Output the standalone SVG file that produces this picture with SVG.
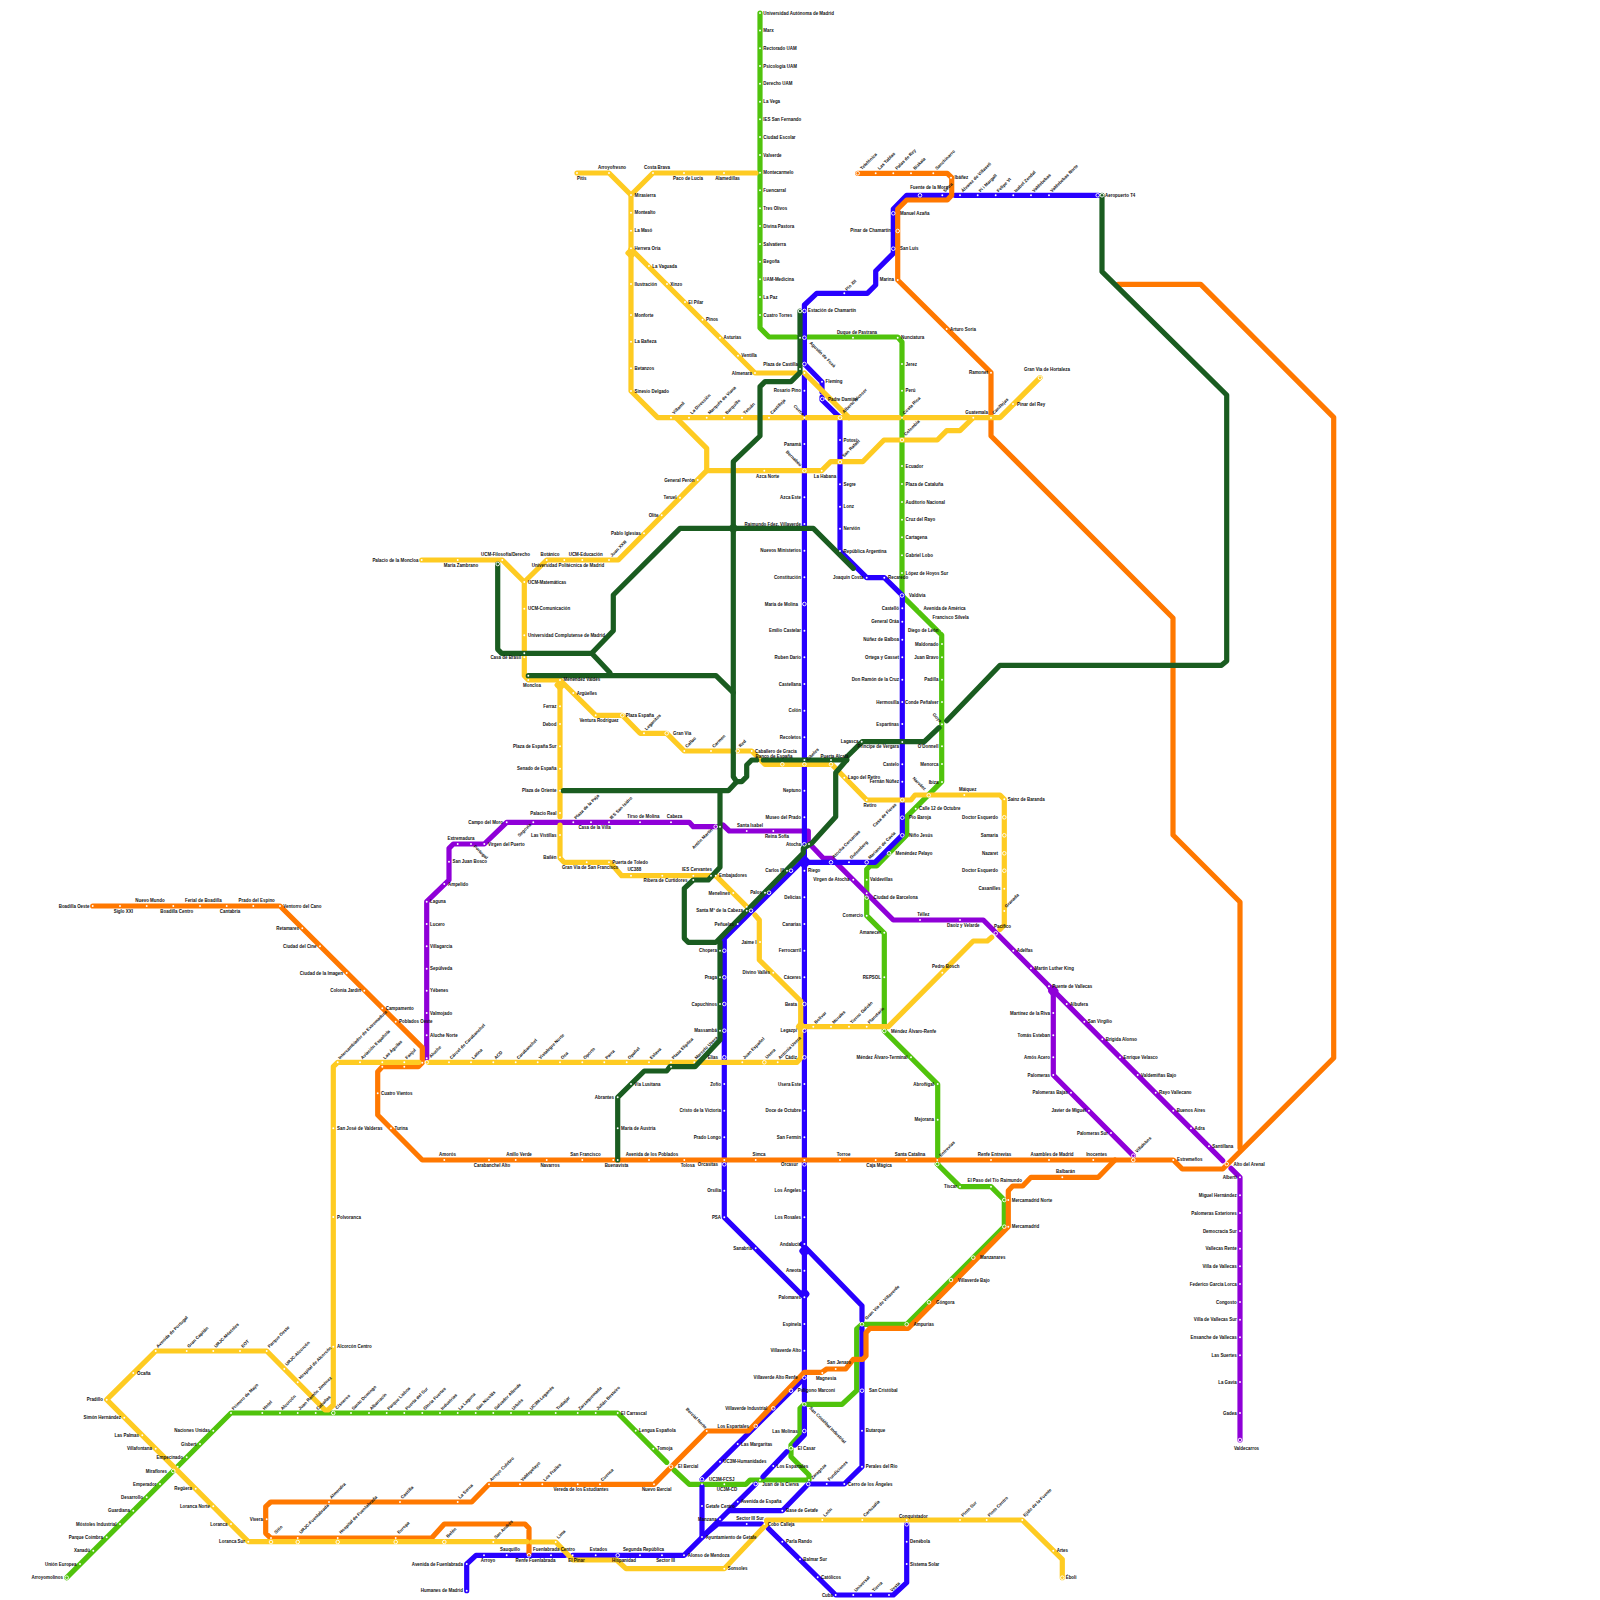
<svg xmlns="http://www.w3.org/2000/svg" width="1600" height="1600" viewBox="0 0 1600 1600">
<style>
text{font-family:"Liberation Sans",Arial,sans-serif;font-weight:700;font-size:4.44px;fill:#111}
.e{text-anchor:end}.m{text-anchor:middle}
.d{fill:#fff;r:.95px}.r{fill:none;stroke:#fff;stroke-width:.9;r:1.8px}
#connectors path{fill:none;stroke-width:5.2;stroke-linejoin:round;stroke-linecap:round}
.g{stroke:#50c30c}.p{stroke:#8f00d8}.b{stroke:#2800ff}.o{stroke:#ff7800}.y{stroke:#fecb22}.k{stroke:#1a5c20}
</style>
<rect width="1600" height="1600" fill="#fff"/>
<g id="connectors">
<path class="g" d="M760 13V328L769 337H796"/>
<path class="g" d="M808 337H897.7L902 342V595.7L941.7 635V781.7L906.7 816.7V835L876.7 866H870L866.7 869.3V915.7L884.3 933.3V1031L937.7 1084.4V1164"/>
<path class="g" d="M937.3 1164L960 1186.7H991L1004.3 1200V1226.7L906.7 1324.3H862L856.7 1329V1390.7L842 1404.3H804.3L800 1408.3V1435L791 1445V1456.7L809 1475V1480H750L746 1484.3H689.3L674 1470"/>
<path class="g" d="M666.7 1462.3L617.7 1413H231L66.7 1577.7"/>
<path class="p" d="M1240 1440V1177.3L1231 1168.3"/>
<path class="p" d="M1222.7 1160.7L983.3 920H893.3L831.7 858.3H823.3L811.7 846L808.3 842V831H729.3L723 825"/>
<path class="p" d="M716.7 826.7H693.3L689.3 822.3H506.7L484.3 844H453.3L449 848.3V880L426.7 901.7V1058.3"/>
<path class="p" d="M1049 986.3L1053.3 993V1075L1133.3 1155.7"/>
<path class="p" d="M1053.3 988L1056 991L1053.3 994L1050.6 991Z"/>
<path class="b" d="M1098.3 195.3H955"/>
<path class="b" d="M948.3 195.3H906.7L893.3 209V253.3L875.7 271V285L867.3 293.3H816.7L804.4 305V364L822 382V392"/>
<path class="b" d="M822 397V400L840 417.7V551L866.7 577.7H884.3L902.3 595.3V835L875 862.3H804.4"/>
<path class="b" d="M804.4 376V1400"/>
<path class="b" d="M804.4 1408V1435L795 1445"/>
<path class="b" d="M786.7 1451.7L763 1476.7"/>
<path class="b" d="M755.7 1484L684 1555.3H572.7"/>
<path class="b" d="M565 1555.3H476L466.7 1564V1590.7"/>
<path class="b" d="M804.3 1378L702 1479.3"/>
<path class="b" d="M702 1486.7V1537L717.7 1524H761.7"/>
<path class="b" d="M730 1510.7H782.3L808.3 1484H844.3L862 1466.7V1328"/>
<path class="b" d="M862 1320V1305.7L802 1244"/>
<path class="b" d="M803.3 860L724.3 938.3V1217.3L802 1295"/>
<path class="b" d="M768.3 1528.3L835.7 1595H893.3L906.7 1582.7V1524.3"/>
<path class="b" d="M804.4 858L808 862L804.4 866L800.8 862Z"/>
<path class="b" d="M804.4 1248L807 1251L804.4 1254L801.8 1251Z"/>
<path class="b" d="M804.4 1291L807 1294L804.4 1297L801.8 1294Z"/>
<path class="o" d="M857.7 173.3H947.3L951.7 177.7V195.3L947.3 200H906.7L897.7 209V280L991 372.7V436L1173 618V835L1240 902V1148"/>
<path class="o" d="M1118 284.3H1200.7L1333.7 417.3V1058L1226.7 1165L1222.7 1169H1182.3L1173.3 1160H940"/>
<path class="o" d="M935 1160H422.3L377.7 1115V1071.7L382.3 1066.7H418.3L422.3 1062.7V1047.7L280 906H92.7"/>
<path class="o" d="M1115 1160L1098.3 1177.3H1031L1022.7 1186H1012.7L1008.3 1190.7V1226.7L908.3 1328.3H870L866 1332.7V1356L862.7 1359.3H853.3L845.7 1369H826.7L821.7 1372.3H804.3L748.3 1431H706.7L654 1484.3H489L471.7 1502H270.7L265.7 1506.7V1533.3L270.7 1538H431.7L444.3 1524H525L529 1528.3V1553.3"/>
<path class="y" d="M577 173H609L631 195L653 173H756"/>
<path class="y" d="M631 195V391L657.7 417.7H756.7"/>
<path class="y" d="M763 417.7H802"/>
<path class="y" d="M807 417.7H899"/>
<path class="y" d="M905 417.7H1000L1040 377.7"/>
<path class="y" d="M631 249L755 373H796"/>
<path class="y" d="M804.4 373L849 417.7"/>
<path class="y" d="M421.7 560H502.3L524.3 582V650"/>
<path class="y" d="M524.3 582L546.7 560H618.3L706.7 470.7V448.3L676 417.7"/>
<path class="y" d="M706.7 470.7H730"/>
<path class="y" d="M736.7 470.7H821.7L830.7 461.7H862.7L884 440H937.3L946.7 430.7H960L973.3 417.7"/>
<path class="y" d="M524.3 657V675.7L528.3 680H560V816.7"/>
<path class="y" d="M560 825V858L564 862.3H610L621.7 875.7H715.7L746.7 906.7"/>
<path class="y" d="M755 915L759.3 920V960L800.7 1001V1058L797 1062.3H428"/>
<path class="y" d="M419 1062.3H337.7L333.3 1066.7V1405L328 1410H325L266.7 1351H155.7L106.7 1399.7L248.3 1541.7H526.7"/>
<path class="y" d="M531.7 1542H555.7L573 1560H616.7L626 1568.7H724.3L766.7 1524V1520H1022.3L1062.3 1559.3V1577.7"/>
<path class="y" d="M560 680L595.7 715.3H622.3L640 733.3H666.7L684.3 751H730"/>
<path class="y" d="M737.7 751H751.7L765 764.3H831.7L866.7 800H911L915 795H1000L1004.3 799.3V925L1000 929.3"/>
<path class="y" d="M800.7 1026.7H888.3L973.3 941H987.3L991.7 937.3"/>
<path class="y" d="M631 250L634 253L631 256L628 253Z"/>
<path class="y" d="M560 682L563 685L560 688L557 685Z"/>
<path class="y" d="M800.7 1024L803 1026.7L800.7 1029.4L798.4 1026.7Z"/>
<path class="k" d="M1102 195.3V271.7L1226.7 395V661L1221.5 665.3H1000L946.7 720.7"/>
<path class="k" d="M939 727.7L924.3 741.7H862.3L846.7 757V760H763.3"/>
<path class="k" d="M846.7 760L835.7 772.7V816.7L811.7 843.3L803.3 848.3V853L716 942.3H688.3L684.3 938.3V888.3L693.3 880H708.3L720 867.3V793"/>
<path class="k" d="M800 311V372.7L791 381.7H765L760 386.7V436L733.3 461.7V776.7L736.7 781.7H741.7L746.7 776.7V765L751.7 760H756.7"/>
<path class="k" d="M563.3 790.7H728.3L736.7 781.7"/>
<path class="k" d="M720 942V1040L695 1066.7H670L666.7 1071H644.3L617.7 1097.3V1160"/>
<path class="k" d="M497.7 564V649.3L501.7 653.3H591.7L613.3 630.7V595L680 528.3H813.3L853.3 568.3"/>
<path class="k" d="M591.7 653.3L610 672.7"/>
<path class="k" d="M528.3 675.7H716L733.3 692.7"/>
<path class="k" d="M733.3 526L735.7 528.3L733.3 530.6L731 528.3Z"/>
</g>
<g id="nodes">
<g id="n1"><circle class="d" cx="760" cy="13"/><text x="763.3" y="14.5">Universidad Autónoma de Madrid</text></g>
<g id="n2"><circle class="d" cx="760" cy="30.5"/><text x="763.3" y="32">Marx</text></g>
<g id="n3"><circle class="d" cx="760" cy="48.3"/><text x="763.3" y="49.8">Rectorado UAM</text></g>
<g id="n4"><circle class="d" cx="760" cy="66"/><text x="763.3" y="67.5">Psicología UAM</text></g>
<g id="n5"><circle class="d" cx="760" cy="83.7"/><text x="763.3" y="85.2">Derecho UAM</text></g>
<g id="n6"><circle class="d" cx="760" cy="101.7"/><text x="763.3" y="103.2">La Vega</text></g>
<g id="n7"><circle class="d" cx="760" cy="119.3"/><text x="763.3" y="120.8">IES San Fernando</text></g>
<g id="n8"><circle class="d" cx="760" cy="137"/><text x="763.3" y="138.5">Ciudad Escolar</text></g>
<g id="n9"><circle class="d" cx="760" cy="155"/><text x="763.3" y="156.5">Valverde</text></g>
<g id="n10"><circle class="d" cx="760" cy="172.7"/><text x="763.3" y="174.2">Montecarmelo</text></g>
<g id="n11"><circle class="d" cx="760" cy="190.3"/><text x="763.3" y="191.8">Fuencarral</text></g>
<g id="n12"><circle class="d" cx="760" cy="208.3"/><text x="763.3" y="209.8">Tres Olivos</text></g>
<g id="n13"><circle class="d" cx="760" cy="226"/><text x="763.3" y="227.5">Divina Pastora</text></g>
<g id="n14"><circle class="d" cx="760" cy="244"/><text x="763.3" y="245.5">Salvatierra</text></g>
<g id="n15"><circle class="d" cx="760" cy="261.7"/><text x="763.3" y="263.2">Begoña</text></g>
<g id="n16"><circle class="d" cx="760" cy="279.3"/><text x="763.3" y="280.8">UAM-Medicina</text></g>
<g id="n17"><circle class="d" cx="760" cy="297"/><text x="763.3" y="298.5">La Paz</text></g>
<g id="n18"><circle class="d" cx="760" cy="315"/><text x="763.3" y="316.5">Cuatro Torres</text></g>
<g id="n19"><circle class="d" cx="577" cy="173"/><text x="577" y="179.8">Pitis</text></g>
<g id="n20"><circle class="d" cx="609" cy="173"/><text class="m" x="612" y="169">Arroyofresno</text></g>
<g id="n21"><circle class="d" cx="653" cy="173"/><text class="m" x="657" y="169">Costa Brava</text></g>
<g id="n22"><circle class="d" cx="684" cy="173"/><text class="m" x="688" y="179.8">Paco de Lucía</text></g>
<g id="n23"><circle class="d" cx="724" cy="173"/><text class="m" x="727.5" y="179.8">Alamedillas</text></g>
<g id="n24"><circle class="d" cx="631" cy="195"/><text x="634.5" y="196.5">Mirasierra</text></g>
<g id="n25"><circle class="d" cx="631" cy="212.7"/><text x="634.5" y="214.2">Montealto</text></g>
<g id="n26"><circle class="d" cx="631" cy="230.7"/><text x="634.5" y="232.2">La Masó</text></g>
<g id="n27"><circle class="d" cx="631" cy="248.3"/><text x="634.5" y="249.8">Herrera Oria</text></g>
<g id="n28"><circle class="d" cx="631" cy="284"/><text x="634.5" y="285.5">Ilustración</text></g>
<g id="n29"><circle class="d" cx="631" cy="315"/><text x="634.5" y="316.5">Monforte</text></g>
<g id="n30"><circle class="d" cx="631" cy="341.7"/><text x="634.5" y="343.2">La Bañeza</text></g>
<g id="n31"><circle class="d" cx="631" cy="368.3"/><text x="634.5" y="369.8">Betanzos</text></g>
<g id="n32"><circle class="d" cx="631" cy="391"/><text x="634.5" y="392.5">Sinesio Delgado</text></g>
<g id="n33"><circle class="d" cx="649" cy="266"/><text x="652.3" y="267.5">La Vaguada</text></g>
<g id="n34"><circle class="d" cx="667" cy="284"/><text x="670.3" y="285.5">Xinzo</text></g>
<g id="n35"><circle class="d" cx="685" cy="302"/><text x="688.3" y="303.5">El Pilar</text></g>
<g id="n36"><circle class="d" cx="702.5" cy="319.7"/><text x="706" y="321.2">Pinos</text></g>
<g id="n37"><circle class="d" cx="720" cy="337.7"/><text x="723.5" y="339.2">Asturias</text></g>
<g id="n38"><circle class="d" cx="738" cy="355.7"/><text x="741.3" y="357.2">Ventilla</text></g>
<g id="n39"><circle class="d" cx="755" cy="373"/><text class="e" x="752" y="374.5">Almenara</text></g>
<g id="n40"><circle class="r" cx="804.4" cy="364"/><circle class="d" cx="800" cy="369"/><circle class="d" cx="804.4" cy="373"/><text class="e" x="798" y="365.5">Plaza de Castilla</text></g>
<g id="n41"><circle class="r" cx="804.4" cy="311"/><circle class="r" cx="800" cy="311"/><text x="808" y="312">Estación de Chamartín</text></g>
<g id="n42"><circle class="r" cx="804.4" cy="337.7"/><circle class="d" cx="800" cy="337.7"/><text x="809.3" y="343.3" transform="rotate(45 809.3 343.3)">Agustín de Foxá</text></g>
<g id="n43"><circle class="d" cx="853" cy="337.7"/><text class="m" x="857" y="333.5">Duque de Pastrana</text></g>
<g id="n44"><circle class="d" cx="897.7" cy="337.7"/><text x="901" y="339.2">Nunciatura</text></g>
<g id="n45"><circle class="d" cx="844.3" cy="293.3"/><text x="847" y="291" transform="rotate(-45 847 291)">Pío XII</text></g>
<g id="n46"><circle class="r" cx="857.7" cy="173.3"/><text x="862" y="170" transform="rotate(-45 862 170)">Telefónica</text></g>
<g id="n47"><circle class="d" cx="875.7" cy="173.3"/><text x="879.5" y="170" transform="rotate(-45 879.5 170)">Las Tablas</text></g>
<g id="n48"><circle class="d" cx="893.3" cy="173.3"/><text x="897" y="170" transform="rotate(-45 897 170)">Palas de Rey</text></g>
<g id="n49"><circle class="d" cx="911" cy="173.3"/><text x="915" y="170" transform="rotate(-45 915 170)">Bizkaia</text></g>
<g id="n50"><circle class="d" cx="933.3" cy="173.3"/><text x="937" y="170" transform="rotate(-45 937 170)">Sanchinarro</text></g>
<g id="n51"><circle class="d" cx="951" cy="177.7"/><text x="954.5" y="179.2">Ibáñez</text></g>
<g id="n52"><circle class="r" cx="920" cy="195.3"/><text class="m" x="929" y="189">Fuente de la Mora</text></g>
<g id="n53"><circle class="d" cx="942.3" cy="195.3"/><text x="945" y="192.5" transform="rotate(-45 945 192.5)">Sotra</text></g>
<g id="n54"><circle class="d" cx="960" cy="195.3"/><text x="963" y="192.5" transform="rotate(-45 963 192.5)">Álvarez de Villaseti</text></g>
<g id="n55"><circle class="d" cx="977.7" cy="195.3"/><text x="980.5" y="192.5" transform="rotate(-45 980.5 192.5)">Pi i Margall</text></g>
<g id="n56"><circle class="d" cx="995.7" cy="195.3"/><text x="998.5" y="192.5" transform="rotate(-45 998.5 192.5)">Felipe VI</text></g>
<g id="n57"><circle class="d" cx="1013.3" cy="195.3"/><text x="1016" y="192.5" transform="rotate(-45 1016 192.5)">Isabel Zendal</text></g>
<g id="n58"><circle class="d" cx="1031" cy="195.3"/><text x="1034" y="192.5" transform="rotate(-45 1034 192.5)">Valdebebas</text></g>
<g id="n59"><circle class="d" cx="1049" cy="195.3"/><text x="1052" y="192.5" transform="rotate(-45 1052 192.5)">Valdebebas Norte</text></g>
<g id="n60"><circle class="r" cx="1097.7" cy="195.3"/><circle class="r" cx="1102" cy="195.3"/><text x="1105" y="196.8">Aeropuerto T4</text></g>
<g id="n61"><circle class="r" cx="893.3" cy="213.3"/><text x="900" y="214.8">Manuel Azaña</text></g>
<g id="n62"><circle class="r" cx="897.7" cy="231"/><text class="e" x="891" y="232">Pinar de Chamartín</text></g>
<g id="n63"><circle class="r" cx="893.3" cy="248.7"/><text x="900" y="250.2">San Luis</text></g>
<g id="n64"><circle class="d" cx="897.7" cy="280"/><text class="e" x="894" y="281">Marina</text></g>
<g id="n65"><circle class="d" cx="946.7" cy="329"/><text x="950" y="330.5">Arturo Soria</text></g>
<g id="n66"><circle class="d" cx="991" cy="372.7"/><text class="e" x="988" y="374">Ramonet</text></g>
<g id="n67"><circle class="d" cx="991" cy="417.7"/><text x="994" y="414.5" transform="rotate(-45 994 414.5)">Canillejas</text></g>
<g id="n68"><circle class="d" cx="973.3" cy="417.7"/><text class="m" x="976.7" y="413.5">Guatemala</text></g>
<g id="n69"><circle class="d" cx="1013" cy="404"/><text x="1017" y="405.5">Pinar del Rey</text></g>
<g id="n70"><circle class="r" cx="1040" cy="377.7"/><text class="m" x="1047" y="371">Gran Vía de Hortaleza</text></g>
<g id="n71"><circle class="d" cx="822" cy="381.7"/><text x="825.5" y="383.2">Fleming</text></g>
<g id="n72"><circle class="r" cx="822.3" cy="399"/><text x="828" y="400.5">Padre Damián</text></g>
<g id="n73"><circle class="r" cx="840" cy="417.7"/><text x="844" y="413.5" transform="rotate(-45 844 413.5)">Alberto Alcocer</text></g>
<g id="n74"><circle class="d" cx="804.4" cy="390.7"/><text class="e" x="801" y="392">Rosario Pino</text></g>
<g id="n75"><circle class="d" cx="804.4" cy="417.7"/><text class="e" x="802.7" y="416" transform="rotate(45 802.7 416)">Cuzco</text></g>
<g id="n76"><circle class="d" cx="671" cy="417.7"/><text x="674" y="414.5" transform="rotate(-45 674 414.5)">Villamil</text></g>
<g id="n77"><circle class="d" cx="689" cy="417.7"/><text x="692" y="414.5" transform="rotate(-45 692 414.5)">La Dirección</text></g>
<g id="n78"><circle class="d" cx="706.7" cy="417.7"/><text x="709.7" y="414.5" transform="rotate(-45 709.7 414.5)">Marqués de Viana</text></g>
<g id="n79"><circle class="d" cx="724" cy="417.7"/><text x="727" y="414.5" transform="rotate(-45 727 414.5)">Barquillo</text></g>
<g id="n80"><circle class="d" cx="742" cy="417.7"/><text x="745" y="414.5" transform="rotate(-45 745 414.5)">Tetuán</text></g>
<g id="n81"><circle class="d" cx="769" cy="417.7"/><text x="772" y="414.5" transform="rotate(-45 772 414.5)">Castilleja</text></g>
<g id="n82"><circle class="d" cx="804.4" cy="444"/><text class="e" x="801" y="445.5">Panamá</text></g>
<g id="n83"><circle class="r" cx="804.4" cy="470.7"/><text class="e" x="800" y="466.7" transform="rotate(45 800 466.7)">Bernabéu</text></g>
<g id="n84"><circle class="d" cx="804.4" cy="497.3"/><text class="e" x="801" y="498.8">Azca Este</text></g>
<g id="n85"><circle class="d" cx="804.4" cy="524"/><text class="e" x="801" y="525.5">Raimundo Fdez. Villaverde</text></g>
<g id="n86"><circle class="d" cx="804.4" cy="550.7"/><text class="e" x="801" y="552.2">Nuevos Ministerios</text></g>
<g id="n87"><circle class="d" cx="804.4" cy="577.3"/><text class="e" x="801" y="578.8">Constitución</text></g>
<g id="n88"><circle class="r" cx="804.4" cy="604"/><text class="e" x="798" y="605.5">María de Molina</text></g>
<g id="n89"><circle class="d" cx="804.4" cy="630.7"/><text class="e" x="801" y="632.2">Emilio Castelar</text></g>
<g id="n90"><circle class="d" cx="804.4" cy="657.3"/><text class="e" x="801" y="658.8">Ruben Darío</text></g>
<g id="n91"><circle class="d" cx="804.4" cy="684"/><text class="e" x="801" y="685.5">Castellana</text></g>
<g id="n92"><circle class="d" cx="804.4" cy="710.7"/><text class="e" x="801" y="712.2">Colón</text></g>
<g id="n93"><circle class="d" cx="804.4" cy="737.3"/><text class="e" x="801" y="738.8">Recoletos</text></g>
<g id="n94"><circle class="r" cx="804.4" cy="764.3"/><circle class="d" cx="804.4" cy="760"/><text x="808" y="761" transform="rotate(-45 808 761)">Cibeles</text></g>
<g id="n95"><circle class="d" cx="804.4" cy="790.7"/><text class="e" x="801" y="792.2">Neptuno</text></g>
<g id="n96"><circle class="d" cx="804.4" cy="817.3"/><text class="e" x="801" y="818.8">Museo del Prado</text></g>
<g id="n97"><circle class="r" cx="804.4" cy="844.3"/><circle class="d" cx="809" cy="844"/><text class="e" x="801" y="845.8">Atocha</text></g>
<g id="n98"><circle class="d" cx="804.4" cy="870.7"/><text x="808" y="872.2">Riego</text></g>
<g id="n99"><circle class="d" cx="804.4" cy="897.3"/><text class="e" x="801" y="898.8">Delicias</text></g>
<g id="n100"><circle class="d" cx="804.4" cy="924"/><text class="e" x="801" y="925.5">Canarias</text></g>
<g id="n101"><circle class="d" cx="804.4" cy="950.7"/><text class="e" x="801" y="952.2">Ferrocarril</text></g>
<g id="n102"><circle class="d" cx="804.4" cy="977.3"/><text class="e" x="801" y="978.8">Cáceres</text></g>
<g id="n103"><circle class="r" cx="804.4" cy="1004"/><text class="e" x="797" y="1005.5">Beata</text></g>
<g id="n104"><circle class="r" cx="804.4" cy="1030.7"/><text class="e" x="797" y="1032.2">Legazpi</text></g>
<g id="n105"><circle class="r" cx="804.4" cy="1057.3"/><text class="e" x="797" y="1058.8">Cádiz</text></g>
<g id="n106"><circle class="d" cx="804.4" cy="1084"/><text class="e" x="801" y="1085.5">Usera Este</text></g>
<g id="n107"><circle class="d" cx="804.4" cy="1110.7"/><text class="e" x="801" y="1112.2">Doce de Octubre</text></g>
<g id="n108"><circle class="d" cx="804.4" cy="1137.3"/><text class="e" x="801" y="1138.8">San Fermín</text></g>
<g id="n109"><circle class="r" cx="804.4" cy="1164.3"/><circle class="d" cx="804.4" cy="1160"/><text class="e" x="798" y="1165.5">Orcasur</text></g>
<g id="n110"><circle class="d" cx="804.4" cy="1190.7"/><text class="e" x="801" y="1192.2">Los Ángeles</text></g>
<g id="n111"><circle class="d" cx="804.4" cy="1217.3"/><text class="e" x="801" y="1218.8">Los Rosales</text></g>
<g id="n112"><circle class="d" cx="804.4" cy="1244"/><text class="e" x="801" y="1245.5">Andalucía</text></g>
<g id="n113"><circle class="d" cx="804.4" cy="1270.7"/><text class="e" x="801" y="1272.2">Aneota</text></g>
<g id="n114"><circle class="d" cx="804.4" cy="1297.3"/><text class="e" x="801" y="1298.8">Palomares</text></g>
<g id="n115"><circle class="d" cx="804.4" cy="1324"/><text class="e" x="801" y="1325.5">Espinela</text></g>
<g id="n116"><circle class="d" cx="804.4" cy="1350.7"/><text class="e" x="801" y="1352.2">Villaverde Alto</text></g>
<g id="n117"><circle class="r" cx="804.4" cy="1377.7"/><text class="e" x="797.7" y="1379">Villaverde Alto Renfe</text></g>
<g id="n118"><circle class="r" cx="791" cy="1390.7"/><text x="797.7" y="1392.2">Polígono Marconi</text></g>
<g id="n119"><circle class="r" cx="773.3" cy="1408.3"/><text class="e" x="767.3" y="1409.8">Villaverde Industrial</text></g>
<g id="n120"><circle class="r" cx="755.7" cy="1426"/><text class="e" x="749" y="1427.5">Los Espartales</text></g>
<g id="n121"><circle class="d" cx="737.7" cy="1444"/><text x="741" y="1445.5">Las Margaritas</text></g>
<g id="n122"><circle class="d" cx="720" cy="1461.7"/><text x="723.3" y="1463.2">UC3M-Humanidades</text></g>
<g id="n123"><circle class="r" cx="702" cy="1479.3"/><circle class="d" cx="702" cy="1484.3"/><text x="709" y="1480.8">UC3M-FCSJ</text></g>
<g id="n124"><circle class="d" cx="724.3" cy="1484.3"/><text class="m" x="727" y="1491.3">UC3M-CD</text></g>
<g id="n125"><circle class="d" cx="702" cy="1506"/><text x="705.7" y="1507.5">Getafe Centro</text></g>
<g id="n126"><circle class="d" cx="702" cy="1537"/><text x="705.7" y="1538.5">Ayuntamiento de Getafe</text></g>
<g id="n127"><circle class="d" cx="720" cy="1519.3"/><text class="e" x="716.7" y="1520.8">Manzana</text></g>
<g id="n128"><circle class="d" cx="737.7" cy="1501.7"/><text x="741" y="1503.2">Avenida de España</text></g>
<g id="n129"><circle class="r" cx="755.7" cy="1484"/><circle class="d" cx="760" cy="1480"/><text x="762.3" y="1485.5">Juan de la Cierva</text></g>
<g id="n130"><circle class="d" cx="773.3" cy="1466"/><text x="776.7" y="1467.5">Los Espartales</text></g>
<g id="n131"><circle class="r" cx="791" cy="1448.3"/><text x="797.7" y="1449.8">El Casar</text></g>
<g id="n132"><circle class="r" cx="804.3" cy="1431"/><text class="e" x="797.7" y="1432.5">Las Molinas</text></g>
<g id="n133"><circle class="r" cx="804.3" cy="1404.3"/><text x="809" y="1408.3" transform="rotate(45 809 1408.3)">San Cristóbal Industrial</text></g>
<g id="n134"><circle class="d" cx="684" cy="1555.3"/><text x="687.7" y="1556.8">Alonso de Mendoza</text></g>
<g id="n135"><circle class="d" cx="662" cy="1555.3"/><text class="m" x="665.5" y="1562.2">Sector III</text></g>
<g id="n136"><circle class="d" cx="640" cy="1555.3"/><text class="m" x="643.5" y="1550.8">Segunda República</text></g>
<g id="n137"><circle class="r" cx="617.7" cy="1555.3"/><text class="m" x="624" y="1562.2">Hispanidad</text></g>
<g id="n138"><circle class="d" cx="595.7" cy="1555.3"/><text class="m" x="598.5" y="1550.8">Estados</text></g>
<g id="n139"><circle class="d" cx="572.7" cy="1555.3"/><text class="m" x="576.5" y="1562.2">El Pinar</text></g>
<g id="n140"><circle class="d" cx="551" cy="1555.3"/><text class="m" x="554" y="1550.8">Fuenlabrada Centro</text></g>
<g id="n141"><circle class="r" cx="529" cy="1555.3"/><text class="m" x="535.5" y="1562.2">Renfe Fuenlabrada</text></g>
<g id="n142"><circle class="d" cx="506.7" cy="1555.3"/><text class="m" x="510" y="1550.8">Sauquillo</text></g>
<g id="n143"><circle class="d" cx="484" cy="1555.3"/><text class="m" x="488" y="1562.2">Arroyo</text></g>
<g id="n144"><circle class="d" cx="466.7" cy="1564"/><text class="e" x="463" y="1565.5">Avenida de Fuenlabrada</text></g>
<g id="n145"><circle class="d" cx="466.7" cy="1590.7"/><text class="e" x="463" y="1592.2">Humanes de Madrid</text></g>
<g id="n146"><circle class="r" cx="808.3" cy="1484"/><circle class="d" cx="809" cy="1480"/><text x="812.7" y="1479.5" transform="rotate(-45 812.7 1479.5)">Zaragoza</text></g>
<g id="n147"><circle class="d" cx="826.7" cy="1484"/><text x="829.5" y="1481" transform="rotate(-45 829.5 1481)">Fundiciones</text></g>
<g id="n148"><circle class="d" cx="844.3" cy="1484"/><text x="848" y="1485.5">Cerro de los Ángeles</text></g>
<g id="n149"><circle class="d" cx="862" cy="1466.7"/><text x="865.7" y="1468">Perales del Río</text></g>
<g id="n150"><circle class="d" cx="862" cy="1430.7"/><text x="865.7" y="1432.2">Butarque</text></g>
<g id="n151"><circle class="r" cx="862" cy="1390.7"/><text x="869" y="1392.2">San Cristóbal</text></g>
<g id="n152"><circle class="r" cx="862" cy="1324.3"/><text x="866.7" y="1320" transform="rotate(-45 866.7 1320)">Gran Vía de Villaverde</text></g>
<g id="n153"><circle class="d" cx="782.3" cy="1510.7"/><text x="786" y="1512.2">Base de Getafe</text></g>
<g id="n154"><circle class="d" cx="746.7" cy="1524"/><text class="m" x="750" y="1519.8">Sector III Sur</text></g>
<g id="n155"><circle class="d" cx="764.3" cy="1524"/><text x="767.7" y="1525.5">Cobo Calleja</text></g>
<g id="n156"><circle class="d" cx="782.3" cy="1541.7"/><text x="786" y="1543.2">Parla Rando</text></g>
<g id="n157"><circle class="d" cx="800" cy="1559.3"/><text x="803.3" y="1560.8">Balmar Sur</text></g>
<g id="n158"><circle class="d" cx="817.7" cy="1577.3"/><text x="821" y="1578.8">Católicos</text></g>
<g id="n159"><circle class="d" cx="835.7" cy="1595"/><text class="e" x="833" y="1596.5">Cuba</text></g>
<g id="n160"><circle class="d" cx="853.3" cy="1595"/><text x="856" y="1592" transform="rotate(-45 856 1592)">Universal</text></g>
<g id="n161"><circle class="d" cx="871" cy="1595"/><text x="874" y="1592" transform="rotate(-45 874 1592)">Tierra</text></g>
<g id="n162"><circle class="d" cx="889" cy="1595"/><text x="892" y="1592" transform="rotate(-45 892 1592)">Vesta</text></g>
<g id="n163"><circle class="d" cx="906.7" cy="1564"/><text x="910" y="1565.5">Sistema Solar</text></g>
<g id="n164"><circle class="d" cx="906.7" cy="1541.7"/><text x="910" y="1543.2">Denébola</text></g>
<g id="n165"><circle class="r" cx="906.7" cy="1524.3"/><circle class="d" cx="906.7" cy="1520"/><text class="m" x="913.3" y="1517.5">Conquistador</text></g>
<g id="n166"><circle class="d" cx="822.3" cy="1520"/><text x="825" y="1517" transform="rotate(-45 825 1517)">León</text></g>
<g id="n167"><circle class="d" cx="862.3" cy="1520"/><text x="865" y="1517" transform="rotate(-45 865 1517)">Cartuzalia</text></g>
<g id="n168"><circle class="d" cx="960" cy="1520"/><text x="963" y="1517" transform="rotate(-45 963 1517)">Pinto Sur</text></g>
<g id="n169"><circle class="d" cx="986.7" cy="1520"/><text x="989.5" y="1517" transform="rotate(-45 989.5 1517)">Pinto Centro</text></g>
<g id="n170"><circle class="d" cx="1022.3" cy="1520"/><text x="1025" y="1517" transform="rotate(-45 1025 1517)">Ejido de la Fuente</text></g>
<g id="n171"><circle class="d" cx="1053.3" cy="1550.7"/><text x="1056.7" y="1552.2">Artes</text></g>
<g id="n172"><circle class="r" cx="1062.3" cy="1577.7"/><text x="1065.7" y="1579.2">Éboli</text></g>
<g id="n173"><circle class="d" cx="724.3" cy="1568.7"/><text x="727.7" y="1570.2">Sonsoles</text></g>
<g id="n174"><circle class="d" cx="555.7" cy="1542"/><text x="558.5" y="1539" transform="rotate(-45 558.5 1539)">Lima</text></g>
<g id="n175"><circle class="d" cx="493.3" cy="1542"/><text x="496" y="1539" transform="rotate(-45 496 1539)">San Andrés</text></g>
<g id="n176"><circle class="r" cx="444.3" cy="1542"/><text x="448" y="1538" transform="rotate(-45 448 1538)">Belén</text></g>
<g id="n177"><circle class="r" cx="395.7" cy="1542"/><circle class="d" cx="395.7" cy="1538"/><text x="399" y="1534" transform="rotate(-45 399 1534)">Europa</text></g>
<g id="n178"><circle class="r" cx="337.7" cy="1542"/><circle class="d" cx="337.7" cy="1538"/><text x="341" y="1534" transform="rotate(-45 341 1534)">Hospital de Fuenlabrada</text></g>
<g id="n179"><circle class="r" cx="297.7" cy="1542"/><circle class="d" cx="297.7" cy="1538"/><text x="301" y="1534" transform="rotate(-45 301 1534)">URJC-Fuenlabrada</text></g>
<g id="n180"><circle class="r" cx="271" cy="1542"/><circle class="d" cx="271" cy="1538"/><text x="276" y="1534" transform="rotate(-45 276 1534)">Sitio</text></g>
<g id="n181"><circle class="d" cx="248.3" cy="1541.7"/><text class="e" x="245" y="1543.2">Loranca Sur</text></g>
<g id="n182"><circle class="d" cx="231" cy="1524"/><text class="e" x="227.5" y="1525.5">Loranca</text></g>
<g id="n183"><circle class="d" cx="213.3" cy="1506.3"/><text class="e" x="210" y="1507.8">Loranca Norte</text></g>
<g id="n184"><circle class="d" cx="195.7" cy="1488.7"/><text class="e" x="192" y="1490.2">Regüera</text></g>
<g id="n185"><circle class="d" cx="155.7" cy="1448.7"/><text class="e" x="152" y="1450.2">Villafontana</text></g>
<g id="n186"><circle class="d" cx="142.3" cy="1435.3"/><text class="e" x="139" y="1436.8">Las Palmas</text></g>
<g id="n187"><circle class="d" cx="124.3" cy="1417.7"/><text class="e" x="121" y="1419.2">Simón Hernández</text></g>
<g id="n188"><circle class="d" cx="106.7" cy="1399.7"/><text class="e" x="103" y="1401.2">Pradillo</text></g>
<g id="n189"><circle class="d" cx="133.3" cy="1373"/><text x="137" y="1374.5">Ocaña</text></g>
<g id="n190"><circle class="d" cx="155.7" cy="1351"/><text x="158" y="1348" transform="rotate(-45 158 1348)">Avenida de Portugal</text></g>
<g id="n191"><circle class="d" cx="186.7" cy="1351"/><text x="189" y="1348" transform="rotate(-45 189 1348)">Gran Capitán</text></g>
<g id="n192"><circle class="d" cx="213.3" cy="1351"/><text x="216" y="1348" transform="rotate(-45 216 1348)">URJC-Móstoles</text></g>
<g id="n193"><circle class="d" cx="240" cy="1351"/><text x="243" y="1348" transform="rotate(-45 243 1348)">EOT</text></g>
<g id="n194"><circle class="d" cx="266.7" cy="1351"/><text x="269.5" y="1348" transform="rotate(-45 269.5 1348)">Parque Oeste</text></g>
<g id="n195"><circle class="d" cx="284.3" cy="1369"/><text x="287" y="1366" transform="rotate(-45 287 1366)">URJC-Alcorcón</text></g>
<g id="n196"><circle class="d" cx="297.7" cy="1382.3"/><text x="300.5" y="1379.5" transform="rotate(-45 300.5 1379.5)">Hospital de Alcorcón</text></g>
<g id="n197"><circle class="d" cx="333.3" cy="1346.7"/><text x="337" y="1348.2">Alcorcón Centro</text></g>
<g id="n198"><circle class="d" cx="333.3" cy="1217"/><text x="337" y="1218.5">Polvoranca</text></g>
<g id="n199"><circle class="d" cx="333.3" cy="1128.3"/><text x="337" y="1129.8">San José de Valderas</text></g>
<g id="n200"><circle class="d" cx="337.7" cy="1062.3"/><text x="340" y="1059.5" transform="rotate(-45 340 1059.5)">Intercambiador de Extremadura</text></g>
<g id="n201"><circle class="d" cx="360" cy="1062.3"/><text x="362.5" y="1059.5" transform="rotate(-45 362.5 1059.5)">Aviación Española</text></g>
<g id="n202"><circle class="d" cx="382.3" cy="1062.3"/><circle class="d" cx="382.3" cy="1066.7"/><text x="385" y="1059.5" transform="rotate(-45 385 1059.5)">Las Águilas</text></g>
<g id="n203"><circle class="d" cx="404.3" cy="1062.3"/><circle class="d" cx="404.3" cy="1066.7"/><text x="407" y="1059.5" transform="rotate(-45 407 1059.5)">Fanjul</text></g>
<g id="n204"><circle class="r" cx="426.7" cy="1062.3"/><circle class="d" cx="422.3" cy="1062.7"/><circle class="d" cx="426.7" cy="1058.3"/><text x="431" y="1058" transform="rotate(-45 431 1058)">Aluche</text></g>
<g id="n205"><circle class="d" cx="449" cy="1062.3"/><text x="451.5" y="1059.5" transform="rotate(-45 451.5 1059.5)">Cárcel de Carabanchel</text></g>
<g id="n206"><circle class="d" cx="471" cy="1062.3"/><text x="473.5" y="1059.5" transform="rotate(-45 473.5 1059.5)">Latina</text></g>
<g id="n207"><circle class="d" cx="493.3" cy="1062.3"/><text x="496" y="1059.5" transform="rotate(-45 496 1059.5)">ACD</text></g>
<g id="n208"><circle class="d" cx="515.7" cy="1062.3"/><text x="518.5" y="1059.5" transform="rotate(-45 518.5 1059.5)">Carabanchel</text></g>
<g id="n209"><circle class="d" cx="537.7" cy="1062.3"/><text x="540.5" y="1059.5" transform="rotate(-45 540.5 1059.5)">Vistalegre Norte</text></g>
<g id="n210"><circle class="d" cx="560" cy="1062.3"/><text x="562.5" y="1059.5" transform="rotate(-45 562.5 1059.5)">Oca</text></g>
<g id="n211"><circle class="d" cx="582.3" cy="1062.3"/><text x="585" y="1059.5" transform="rotate(-45 585 1059.5)">Oporto</text></g>
<g id="n212"><circle class="d" cx="604.3" cy="1062.3"/><text x="607" y="1059.5" transform="rotate(-45 607 1059.5)">Parra</text></g>
<g id="n213"><circle class="d" cx="626.7" cy="1062.3"/><text x="629.5" y="1059.5" transform="rotate(-45 629.5 1059.5)">Opañel</text></g>
<g id="n214"><circle class="d" cx="649" cy="1062.3"/><text x="651.5" y="1059.5" transform="rotate(-45 651.5 1059.5)">Eslava</text></g>
<g id="n215"><circle class="d" cx="671" cy="1062.3"/><circle class="d" cx="671" cy="1066.7"/><text x="673.5" y="1059.5" transform="rotate(-45 673.5 1059.5)">Plaza Elíptica</text></g>
<g id="n216"><circle class="d" cx="694.3" cy="1062.3"/><text x="696.5" y="1059.5" transform="rotate(-45 696.5 1059.5)">Marcelo Usera</text></g>
<g id="n217"><circle class="d" cx="742.3" cy="1062.3"/><text x="744.5" y="1059.5" transform="rotate(-45 744.5 1059.5)">Juan Español</text></g>
<g id="n218"><circle class="r" cx="764.3" cy="1062.3"/><text x="767" y="1059" transform="rotate(-45 767 1059)">Usera</text></g>
<g id="n219"><circle class="d" cx="777.7" cy="1062.3"/><text x="780" y="1059.5" transform="rotate(-45 780 1059.5)">Antonia Usera</text></g>
<g id="n220"><circle class="d" cx="813.3" cy="1026.7"/><text x="816" y="1024" transform="rotate(-45 816 1024)">Bolívar</text></g>
<g id="n221"><circle class="d" cx="831" cy="1026.7"/><text x="834" y="1024" transform="rotate(-45 834 1024)">Morales</text></g>
<g id="n222"><circle class="d" cx="849" cy="1026.7"/><text x="852" y="1024" transform="rotate(-45 852 1024)">Tierno Galván</text></g>
<g id="n223"><circle class="d" cx="866.7" cy="1026.7"/><text x="869.5" y="1024" transform="rotate(-45 869.5 1024)">Planetario</text></g>
<g id="n224"><circle class="r" cx="884.3" cy="1031"/><text x="891" y="1032.5">Méndez Álvaro-Renfe</text></g>
<g id="n225"><circle class="d" cx="911" cy="1057.3"/><text class="e" x="907.5" y="1058.8">Méndez Álvaro-Terminal</text></g>
<g id="n226"><circle class="d" cx="937.7" cy="1084"/><text class="e" x="934" y="1085.5">Abroñigal</text></g>
<g id="n227"><circle class="d" cx="937.7" cy="1119.7"/><text class="e" x="934" y="1121.2">Mejorana</text></g>
<g id="n228"><circle class="r" cx="937.3" cy="1164"/><circle class="d" cx="937.3" cy="1160"/><text x="941" y="1157" transform="rotate(-45 941 1157)">Entrevías</text></g>
<g id="n229"><circle class="d" cx="960" cy="1186.7"/><text class="e" x="957" y="1188.2">Tíscar</text></g>
<g id="n230"><circle class="d" cx="991" cy="1186.7"/><text class="m" x="994.7" y="1182.2">El Paso del Tío Raimundo</text></g>
<g id="n231"><circle class="r" cx="1004.3" cy="1200"/><circle class="d" cx="1008.3" cy="1200"/><text x="1011.7" y="1201.5">Mercamadrid Norte</text></g>
<g id="n232"><circle class="r" cx="1004.3" cy="1226.7"/><circle class="d" cx="1008.3" cy="1226.7"/><text x="1011.7" y="1228.2">Mercamadrid</text></g>
<g id="n233"><circle class="r" cx="973.3" cy="1257.7"/><text x="980" y="1259.2">Manzanares</text></g>
<g id="n234"><circle class="r" cx="951" cy="1280"/><text x="958" y="1281.5">Villaverde Bajo</text></g>
<g id="n235"><circle class="r" cx="929" cy="1302.3"/><text x="936" y="1303.8">Góngora</text></g>
<g id="n236"><circle class="r" cx="906.7" cy="1324.3"/><text x="913.5" y="1325.8">Ampurias</text></g>
<g id="n237"><circle class="d" cx="835.7" cy="1369"/><text class="m" x="839" y="1364">San Jenaro</text></g>
<g id="n238"><circle class="d" cx="822.3" cy="1373"/><text class="m" x="826" y="1379.8">Magnesia</text></g>
<g id="n239"><circle class="d" cx="706.7" cy="1431"/><text class="e" x="705" y="1429" transform="rotate(45 705 1429)">Bercial Norte</text></g>
<g id="n240"><circle class="r" cx="671" cy="1466.7"/><text x="678" y="1468.2">El Bercial</text></g>
<g id="n241"><circle class="d" cx="654" cy="1484.3"/><text class="m" x="656.7" y="1491.2">Nuevo Bercial</text></g>
<g id="n242"><circle class="d" cx="600" cy="1484.3"/><text x="602.5" y="1481.5" transform="rotate(-45 602.5 1481.5)">Cuenca</text></g>
<g id="n243"><circle class="d" cx="577.7" cy="1484.3"/><text class="m" x="581" y="1491.2">Vereda de los Estudiantes</text></g>
<g id="n244"><circle class="d" cx="542.3" cy="1484.3"/><text x="545" y="1481.5" transform="rotate(-45 545 1481.5)">Los Frailes</text></g>
<g id="n245"><circle class="d" cx="520" cy="1484.3"/><text x="522.5" y="1481.5" transform="rotate(-45 522.5 1481.5)">Valdepelayo</text></g>
<g id="n246"><circle class="d" cx="489" cy="1484.3"/><text x="491.5" y="1481.5" transform="rotate(-45 491.5 1481.5)">Arroyo Culebro</text></g>
<g id="n247"><circle class="d" cx="457.7" cy="1502"/><text x="460" y="1499" transform="rotate(-45 460 1499)">La Serna</text></g>
<g id="n248"><circle class="d" cx="400" cy="1502"/><text x="402.5" y="1499" transform="rotate(-45 402.5 1499)">Castilla</text></g>
<g id="n249"><circle class="d" cx="329" cy="1502"/><text x="331.5" y="1499" transform="rotate(-45 331.5 1499)">Almendra</text></g>
<g id="n250"><circle class="d" cx="266.7" cy="1519.3"/><text class="e" x="263" y="1520.8">Vivera</text></g>
<g id="n251"><circle class="d" cx="617.7" cy="1413"/><text x="621" y="1414.5">El Carrascal</text></g>
<g id="n252"><circle class="d" cx="635.7" cy="1430.7"/><text x="639" y="1432.2">Lengua Española</text></g>
<g id="n253"><circle class="d" cx="653.3" cy="1448.7"/><text x="657" y="1450.2">Tomoja</text></g>
<g id="n254"><circle class="d" cx="595.7" cy="1413"/><text x="598" y="1410.3" transform="rotate(-45 598 1410.3)">Julián Besteiro</text></g>
<g id="n255"><circle class="d" cx="577.7" cy="1413"/><text x="580" y="1410.3" transform="rotate(-45 580 1410.3)">Zarzaquemada</text></g>
<g id="n256"><circle class="d" cx="555.7" cy="1413"/><text x="558" y="1410.3" transform="rotate(-45 558 1410.3)">Trabajar</text></g>
<g id="n257"><circle class="d" cx="529" cy="1413"/><text x="531.5" y="1410.3" transform="rotate(-45 531.5 1410.3)">UC3M-Leganés</text></g>
<g id="n258"><circle class="d" cx="511" cy="1413"/><text x="513.5" y="1410.3" transform="rotate(-45 513.5 1410.3)">Urbiós</text></g>
<g id="n259"><circle class="d" cx="493.3" cy="1413"/><text x="496" y="1410.3" transform="rotate(-45 496 1410.3)">Salvador Allende</text></g>
<g id="n260"><circle class="d" cx="475.7" cy="1413"/><text x="478" y="1410.3" transform="rotate(-45 478 1410.3)">San Nicolás</text></g>
<g id="n261"><circle class="d" cx="457.7" cy="1413"/><text x="460" y="1410.3" transform="rotate(-45 460 1410.3)">La Laguna</text></g>
<g id="n262"><circle class="d" cx="440" cy="1413"/><text x="442.5" y="1410.3" transform="rotate(-45 442.5 1410.3)">Industrias</text></g>
<g id="n263"><circle class="d" cx="422.3" cy="1413"/><text x="425" y="1410.3" transform="rotate(-45 425 1410.3)">Gloria Fuertes</text></g>
<g id="n264"><circle class="d" cx="404.3" cy="1413"/><text x="407" y="1410.3" transform="rotate(-45 407 1410.3)">Puerta del Sur</text></g>
<g id="n265"><circle class="d" cx="386.7" cy="1413"/><text x="389" y="1410.3" transform="rotate(-45 389 1410.3)">Parque Lisboa</text></g>
<g id="n266"><circle class="d" cx="369" cy="1413"/><text x="371.5" y="1410.3" transform="rotate(-45 371.5 1410.3)">Albarracín</text></g>
<g id="n267"><circle class="d" cx="351" cy="1413"/><text x="353.5" y="1410.3" transform="rotate(-45 353.5 1410.3)">Santo Domingo</text></g>
<g id="n268"><circle class="r" cx="333.3" cy="1413"/><text x="337" y="1409.5" transform="rotate(-45 337 1409.5)">Cisneros</text></g>
<g id="n269"><circle class="d" cx="315.7" cy="1413"/><text x="318" y="1410.3" transform="rotate(-45 318 1410.3)">Cabañas</text></g>
<g id="n270"><circle class="d" cx="297.7" cy="1413"/><text x="300" y="1410.3" transform="rotate(-45 300 1410.3)">Juan Ramón Jiménez</text></g>
<g id="n271"><circle class="d" cx="280" cy="1413"/><text x="282.5" y="1410.3" transform="rotate(-45 282.5 1410.3)">Alcorcón</text></g>
<g id="n272"><circle class="d" cx="262.3" cy="1413"/><text x="264.5" y="1410.3" transform="rotate(-45 264.5 1410.3)">Hotel</text></g>
<g id="n273"><circle class="d" cx="231" cy="1413"/><text x="233.5" y="1410.3" transform="rotate(-45 233.5 1410.3)">Primero de Mayo</text></g>
<g id="n274"><circle class="d" cx="213.3" cy="1430.7"/><text class="e" x="210" y="1432.2">Naciones Unidas</text></g>
<g id="n275"><circle class="d" cx="200" cy="1444"/><text class="e" x="196.5" y="1445.5">Gisbert</text></g>
<g id="n276"><circle class="d" cx="186.7" cy="1457.3"/><text class="e" x="183" y="1458.8">Empecinado</text></g>
<g id="n277"><circle class="r" cx="173.3" cy="1471"/><circle class="d" cx="177.7" cy="1466.7"/><text class="e" x="167" y="1472.5">Miraflores</text></g>
<g id="n278"><circle class="d" cx="160" cy="1484"/><text class="e" x="156.5" y="1485.5">Emperador</text></g>
<g id="n279"><circle class="d" cx="146.7" cy="1497.3"/><text class="e" x="143" y="1498.8">Desarrollo</text></g>
<g id="n280"><circle class="d" cx="133.3" cy="1510.7"/><text class="e" x="130" y="1512.2">Guardiana</text></g>
<g id="n281"><circle class="d" cx="120" cy="1524"/><text class="e" x="116.5" y="1525.5">Móstoles Industrial</text></g>
<g id="n282"><circle class="d" cx="106.7" cy="1537.3"/><text class="e" x="103" y="1538.8">Parque Coimbra</text></g>
<g id="n283"><circle class="d" cx="93.3" cy="1550.7"/><text class="e" x="90" y="1552.2">Xanadú</text></g>
<g id="n284"><circle class="d" cx="80" cy="1564"/><text class="e" x="76.5" y="1565.5">Unión Europea</text></g>
<g id="n285"><circle class="r" cx="66.7" cy="1577.7"/><text class="e" x="63" y="1579.2">Arroyomolinos</text></g>
<g id="n286"><circle class="r" cx="902" cy="440"/><text x="905.7" y="436" transform="rotate(-45 905.7 436)">Colombia</text></g>
<g id="n287"><circle class="d" cx="902" cy="364"/><text x="905.5" y="365.5">Jerez</text></g>
<g id="n288"><circle class="d" cx="902" cy="390.7"/><text x="905.5" y="392.2">Perú</text></g>
<g id="n289"><circle class="d" cx="902" cy="417.7"/><text x="904.5" y="414.7" transform="rotate(-45 904.5 414.7)">Costa Rica</text></g>
<g id="n290"><circle class="d" cx="902" cy="466"/><text x="905.5" y="467.5">Ecuador</text></g>
<g id="n291"><circle class="d" cx="902" cy="484"/><text x="905.5" y="485.5">Plaza de Cataluña</text></g>
<g id="n292"><circle class="d" cx="902" cy="502"/><text x="905.5" y="503.5">Auditorio Nacional</text></g>
<g id="n293"><circle class="d" cx="902" cy="519.7"/><text x="905.5" y="521.2">Cruz del Rayo</text></g>
<g id="n294"><circle class="d" cx="902" cy="537.3"/><text x="905.5" y="538.8">Cartagena</text></g>
<g id="n295"><circle class="d" cx="902" cy="555.3"/><text x="905.5" y="556.8">Gabriel Lobo</text></g>
<g id="n296"><circle class="d" cx="902" cy="573"/><text x="905.5" y="574.5">López de Hoyos Sur</text></g>
<g id="n297"><circle class="r" cx="902" cy="595.5"/><text x="909" y="597">Valdivia</text></g>
<g id="n298"><circle class="d" cx="920" cy="608.7"/><text x="923.5" y="610.2">Avenida de América</text></g>
<g id="n299"><circle class="d" cx="929" cy="617.3"/><text x="932.5" y="618.8">Francisco Silvela</text></g>
<g id="n300"><circle class="d" cx="942" cy="630.7"/><text class="e" x="938.5" y="632.2">Diego de León</text></g>
<g id="n301"><circle class="d" cx="942" cy="644"/><text class="e" x="938.5" y="645.5">Maldonado</text></g>
<g id="n302"><circle class="d" cx="942" cy="657.3"/><text class="e" x="938.5" y="658.8">Juan Bravo</text></g>
<g id="n303"><circle class="d" cx="942" cy="679.7"/><text class="e" x="938.5" y="681.2">Padilla</text></g>
<g id="n304"><circle class="d" cx="942" cy="702"/><text class="e" x="938.5" y="703.5">Conde Peñalver</text></g>
<g id="n305"><circle class="d" cx="942" cy="724.3"/><text class="e" x="940" y="722.7" transform="rotate(45 940 722.7)">Goya</text></g>
<g id="n306"><circle class="d" cx="942" cy="746.3"/><text class="e" x="938.5" y="747.8">O'Donnell</text></g>
<g id="n307"><circle class="d" cx="942" cy="764"/><text class="e" x="938.5" y="765.5">Menorca</text></g>
<g id="n308"><circle class="d" cx="942" cy="782"/><text class="e" x="938.5" y="783.5">Ibiza</text></g>
<g id="n309"><circle class="r" cx="928.7" cy="795.3"/><text class="e" x="924.3" y="790.7" transform="rotate(45 924.3 790.7)">Narváez</text></g>
<g id="n310"><circle class="d" cx="915.7" cy="808.7"/><text x="919" y="810.2">Calle 12 de Octubre</text></g>
<g id="n311"><circle class="r" cx="902.3" cy="817.7"/><text x="909" y="819.2">Pío Baroja</text></g>
<g id="n312"><circle class="r" cx="902.3" cy="835.3"/><text x="909" y="836.8">Niño Jesús</text></g>
<g id="n313"><circle class="r" cx="889" cy="853.3"/><text x="895.5" y="854.8">Menéndez Pelayo</text></g>
<g id="n314"><circle class="r" cx="866.7" cy="862.3"/><text x="870" y="859.3" transform="rotate(-45 870 859.3)">Mariano de Cavia</text></g>
<g id="n315"><circle class="d" cx="849" cy="862.3"/><text x="851.5" y="859.3" transform="rotate(-45 851.5 859.3)">Gutemberg</text></g>
<g id="n316"><circle class="r" cx="831" cy="862.3"/><text x="834" y="858.5" transform="rotate(-45 834 858.5)">Atocha Cercanías</text></g>
<g id="n317"><circle class="d" cx="853.3" cy="879.7"/><text class="e" x="849.5" y="881.2">Virgen de Atocha</text></g>
<g id="n318"><circle class="d" cx="866.7" cy="879.7"/><text x="870" y="881.2">Valdevillas</text></g>
<g id="n319"><circle class="r" cx="866.7" cy="897.7"/><circle class="d" cx="866.7" cy="893.3"/><text x="873.5" y="899.2">Ciudad de Barcelona</text></g>
<g id="n320"><circle class="d" cx="866.7" cy="915.7"/><text class="e" x="863" y="917.2">Comercio</text></g>
<g id="n321"><circle class="d" cx="884.3" cy="932.7"/><text class="e" x="881" y="934.2">Amanecer</text></g>
<g id="n322"><circle class="d" cx="884.3" cy="977.3"/><text class="e" x="881" y="978.8">REPSOL</text></g>
<g id="n323"><circle class="d" cx="942.3" cy="972.7"/><text class="m" x="945.7" y="968.2">Pedro Bosch</text></g>
<g id="n324"><circle class="d" cx="920" cy="920"/><text class="m" x="923.3" y="915.8">Téllez</text></g>
<g id="n325"><circle class="d" cx="960" cy="920"/><text class="m" x="963.3" y="926.8">Daoíz y Velarde</text></g>
<g id="n326"><circle class="r" cx="995.7" cy="933.3"/><text x="994" y="927.5">Pacífico</text></g>
<g id="n327"><circle class="d" cx="1004.3" cy="911"/><text x="1006.5" y="908" transform="rotate(-45 1006.5 908)">Granada</text></g>
<g id="n328"><circle class="d" cx="1004.3" cy="888.7"/><text class="e" x="1000.5" y="890.2">Casanilles</text></g>
<g id="n329"><circle class="r" cx="1004.3" cy="870.7"/><text class="e" x="998" y="872.2">Doctor Esquerdo</text></g>
<g id="n330"><circle class="r" cx="1004.3" cy="853.3"/><text class="e" x="998" y="854.8">Nazaret</text></g>
<g id="n331"><circle class="r" cx="1004.3" cy="835.3"/><text class="e" x="998" y="836.8">Samaria</text></g>
<g id="n332"><circle class="r" cx="1004.3" cy="817.3"/><text class="e" x="998" y="818.8">Doctor Esquerdo</text></g>
<g id="n333"><circle class="d" cx="1004.3" cy="799.3"/><text x="1007.7" y="800.8">Sainz de Baranda</text></g>
<g id="n334"><circle class="d" cx="964.3" cy="795"/><text class="m" x="967.7" y="791">Máiquez</text></g>
<g id="n335"><circle class="r" cx="902.3" cy="800"/><circle class="d" cx="866.7" cy="800"/><text class="m" x="870" y="806.6">Retiro</text><text class="e" x="896.7" y="805" transform="rotate(-45 896.7 805)">Casa de Fieras</text></g>
<g id="n336"><circle class="d" cx="902.3" cy="781.7"/><text class="e" x="899" y="783.2">Fernán Núñez</text></g>
<g id="n337"><circle class="d" cx="902.3" cy="764.3"/><text class="e" x="899" y="765.8">Castelo</text></g>
<g id="n338"><circle class="d" cx="902.3" cy="742"/><text class="e" x="899" y="748">Príncipe de Vergara</text></g>
<g id="n339"><circle class="d" cx="861.7" cy="741.7"/><text class="e" x="858.5" y="743.2">Lagasca</text></g>
<g id="n340"><circle class="d" cx="844.3" cy="777.7"/><text x="848" y="779.2">Lago del Retiro</text></g>
<g id="n341"><circle class="r" cx="831" cy="764.3"/><circle class="d" cx="831" cy="760"/><text class="m" x="834.5" y="757.5">Puerta Alcalá</text></g>
<g id="n342"><circle class="r" cx="782.3" cy="764.3"/><text class="m" x="774" y="757.5">Banco de España</text></g>
<g id="n343"><circle class="d" cx="751.7" cy="751"/><text x="755" y="752.5">Caballero de Gracia</text></g>
<g id="n344"><circle class="r" cx="737.7" cy="751"/><text x="740.5" y="747.5" transform="rotate(-45 740.5 747.5)">Red</text></g>
<g id="n345"><circle class="d" cx="711" cy="751"/><text x="714" y="748" transform="rotate(-45 714 748)">Carmen</text></g>
<g id="n346"><circle class="d" cx="684.3" cy="751"/><text x="687" y="748" transform="rotate(-45 687 748)">Callao</text></g>
<g id="n347"><circle class="r" cx="666.7" cy="733.3"/><text x="673" y="734.8">Gran Vía</text></g>
<g id="n348"><circle class="d" cx="644" cy="733.3"/><text x="646.5" y="730.5" transform="rotate(-45 646.5 730.5)">Leganitos</text></g>
<g id="n349"><circle class="r" cx="622.3" cy="715.3"/><text x="625.7" y="716.8">Plaza España</text></g>
<g id="n350"><circle class="d" cx="595.7" cy="715.3"/><text class="m" x="599" y="722.2">Ventura Rodríguez</text></g>
<g id="n351"><circle class="d" cx="573.3" cy="693"/><text x="576.7" y="694.5">Argüelles</text></g>
<g id="n352"><circle class="d" cx="560" cy="680"/><text x="563.5" y="681">Menéndez Valdés</text></g>
<g id="n353"><circle class="d" cx="528.3" cy="680"/><circle class="d" cx="528.3" cy="675.7"/><text class="m" x="532" y="686.8">Moncloa</text></g>
<g id="n354"><circle class="d" cx="560" cy="706.3"/><text class="e" x="556.5" y="707.8">Ferraz</text></g>
<g id="n355"><circle class="d" cx="560" cy="724"/><text class="e" x="556.5" y="725.5">Debod</text></g>
<g id="n356"><circle class="d" cx="560" cy="746.3"/><text class="e" x="556.5" y="747.8">Plaza de España Sur</text></g>
<g id="n357"><circle class="d" cx="560" cy="768.7"/><text class="e" x="556.5" y="770.2">Senado de España</text></g>
<g id="n358"><circle class="d" cx="560" cy="790.7"/><text class="e" x="556.5" y="792.2">Plaza de Oriente</text></g>
<g id="n359"><circle class="d" cx="560" cy="813"/><text class="e" x="556.5" y="814.5">Palacio Real</text></g>
<g id="n360"><circle class="d" cx="560" cy="835"/><text class="e" x="556.5" y="836.5">Las Vistillas</text></g>
<g id="n361"><circle class="d" cx="560" cy="857.3"/><text class="e" x="556.5" y="858.8">Bailén</text></g>
<g id="n362"><circle class="d" cx="586.7" cy="862.3"/><text class="m" x="590" y="869">Gran Vía de San Francisco</text></g>
<g id="n363"><circle class="d" cx="609" cy="862.3"/><text x="612.3" y="863.8">Puerta de Toledo</text></g>
<g id="n364"><circle class="d" cx="631" cy="875.7"/><text class="m" x="634.3" y="871.3">UC388</text></g>
<g id="n365"><circle class="d" cx="662.3" cy="875.7"/><text class="m" x="665.5" y="882.2">Ribera de Curtidores</text></g>
<g id="n366"><circle class="d" cx="693.3" cy="875.7"/><circle class="d" cx="693.3" cy="880"/><text class="m" x="697" y="870.5">IES Cervantes</text></g>
<g id="n367"><circle class="d" cx="715.7" cy="875.7"/><circle class="d" cx="711" cy="875.7"/><text x="719" y="877.2">Embajadores</text></g>
<g id="n368"><circle class="d" cx="733.3" cy="893"/><text class="e" x="730" y="894.5">Menelines</text></g>
<g id="n369"><circle class="r" cx="751" cy="910.7"/><circle class="d" cx="746.7" cy="906.7"/><circle class="d" cx="746.7" cy="910.7"/><text class="e" x="743" y="912.2">Santa Mª de la Cabeza</text></g>
<g id="n370"><circle class="d" cx="737.7" cy="924"/><text class="e" x="734" y="925.5">Peñuelas</text></g>
<g id="n371"><circle class="d" cx="760" cy="942"/><text class="e" x="756.5" y="943.5">Jaime I</text></g>
<g id="n372"><circle class="d" cx="773.3" cy="972.7"/><text class="e" x="770" y="974.2">Divino Vallés</text></g>
<g id="n373"><circle class="r" cx="769" cy="892.7"/><circle class="d" cx="765" cy="892.7"/><text class="e" x="762" y="894">Palos</text></g>
<g id="n374"><circle class="r" cx="791" cy="870.7"/><circle class="d" cx="787" cy="870.7"/><text class="e" x="784" y="872.2">Carlos III</text></g>
<g id="n375"><circle class="r" cx="724.3" cy="950.7"/><circle class="d" cx="720" cy="950.7"/><text class="e" x="717" y="952.2">Chopera</text></g>
<g id="n376"><circle class="r" cx="724.3" cy="977.3"/><circle class="d" cx="720" cy="977.3"/><text class="e" x="717" y="978.8">Praga</text></g>
<g id="n377"><circle class="r" cx="724.3" cy="1004"/><circle class="d" cx="720" cy="1004"/><text class="e" x="717" y="1005.5">Capuchinos</text></g>
<g id="n378"><circle class="r" cx="724.3" cy="1030.7"/><circle class="d" cx="720" cy="1030.7"/><text class="e" x="717" y="1032.2">Massambá</text></g>
<g id="n379"><circle class="r" cx="724.3" cy="1057.3"/><text class="e" x="718" y="1058.8">Elías</text></g>
<g id="n380"><circle class="d" cx="724.3" cy="1084"/><text class="e" x="721" y="1085.5">Zofío</text></g>
<g id="n381"><circle class="d" cx="724.3" cy="1110.7"/><text class="e" x="721" y="1112.2">Cristo de la Victoria</text></g>
<g id="n382"><circle class="d" cx="724.3" cy="1137.3"/><text class="e" x="721" y="1138.8">Prado Longo</text></g>
<g id="n383"><circle class="r" cx="724.3" cy="1164.3"/><circle class="d" cx="724.3" cy="1160"/><text class="e" x="718" y="1165.8">Orcasitas</text></g>
<g id="n384"><circle class="d" cx="724.3" cy="1190.7"/><text class="e" x="721" y="1192.2">Orsilia</text></g>
<g id="n385"><circle class="d" cx="724.3" cy="1217.3"/><text class="e" x="721" y="1218.8">PSA</text></g>
<g id="n386"><circle class="d" cx="755.7" cy="1248.3"/><text class="e" x="752" y="1249.8">Sanabria</text></g>
<g id="n387"><circle class="d" cx="617.7" cy="1097.3"/><text class="e" x="614" y="1098.8">Abrantes</text></g>
<g id="n388"><circle class="d" cx="631" cy="1084"/><text x="634.3" y="1085.5">Vía Lusitana</text></g>
<g id="n389"><circle class="d" cx="617.7" cy="1128.3"/><text x="621" y="1129.8">María de Austria</text></g>
<g id="n390"><circle class="d" cx="617.7" cy="1160"/><circle class="d" cx="613.3" cy="1160"/><text class="m" x="616.5" y="1166.8">Buenavista</text></g>
<g id="n391"><circle class="d" cx="649" cy="1160"/><text class="m" x="652" y="1155.8">Avenida de los Poblados</text></g>
<g id="n392"><circle class="d" cx="684.3" cy="1160"/><text class="m" x="687.7" y="1166.8">Tolosa</text></g>
<g id="n393"><circle class="d" cx="755.7" cy="1160"/><text class="m" x="759" y="1155.8">Simca</text></g>
<g id="n394"><circle class="d" cx="840" cy="1160"/><text class="m" x="843.5" y="1155.8">Torroe</text></g>
<g id="n395"><circle class="d" cx="875.7" cy="1160"/><text class="m" x="879" y="1166.8">Caja Mágica</text></g>
<g id="n396"><circle class="d" cx="906.7" cy="1160"/><text class="m" x="910" y="1155.8">Santa Catalina</text></g>
<g id="n397"><circle class="d" cx="991" cy="1160"/><text class="m" x="994.5" y="1155.8">Renfe Entrevías</text></g>
<g id="n398"><circle class="d" cx="1049" cy="1160"/><text class="m" x="1052" y="1155.8">Asambles de Madrid</text></g>
<g id="n399"><circle class="d" cx="1093.3" cy="1160"/><text class="m" x="1096.5" y="1155.8">Inocentes</text></g>
<g id="n400"><circle class="r" cx="1133.3" cy="1160"/><circle class="r" cx="1133.3" cy="1155.7"/><text x="1137" y="1153" transform="rotate(-45 1137 1153)">Villalobos</text></g>
<g id="n401"><circle class="d" cx="1173.3" cy="1160"/><text x="1177" y="1161">Estremeños</text></g>
<g id="n402"><circle class="r" cx="1226.7" cy="1164"/><text x="1233.5" y="1165.5">Alto del Arenal</text></g>
<g id="n403"><circle class="d" cx="1062.3" cy="1177.3"/><text class="m" x="1065.5" y="1173">Balbarán</text></g>
<g id="n404"><circle class="d" cx="444.3" cy="1160"/><text class="m" x="447.5" y="1155.8">Amorós</text></g>
<g id="n405"><circle class="d" cx="489" cy="1160"/><text class="m" x="492" y="1166.8">Carabanchel Alto</text></g>
<g id="n406"><circle class="d" cx="515.7" cy="1160"/><text class="m" x="519" y="1155.8">Anillo Verde</text></g>
<g id="n407"><circle class="d" cx="546.7" cy="1160"/><text class="m" x="550" y="1166.8">Navarros</text></g>
<g id="n408"><circle class="d" cx="582.3" cy="1160"/><text class="m" x="585.5" y="1155.8">San Francisco</text></g>
<g id="n409"><circle class="d" cx="391" cy="1128.3"/><text x="394.5" y="1129.8">Turina</text></g>
<g id="n410"><circle class="d" cx="377.7" cy="1093.3"/><text x="381" y="1094.8">Cuatro Vientos</text></g>
<g id="n411"><circle class="d" cx="395.7" cy="1021.7"/><text x="399" y="1023.2">Poblados Oeste</text></g>
<g id="n412"><circle class="d" cx="382.3" cy="1008.3"/><text x="385.7" y="1009.8">Campamento</text></g>
<g id="n413"><circle class="d" cx="364.3" cy="990.7"/><text class="e" x="361" y="992.2">Colonia Jardín</text></g>
<g id="n414"><circle class="d" cx="346.7" cy="973"/><text class="e" x="343" y="974.5">Ciudad de la Imagen</text></g>
<g id="n415"><circle class="d" cx="320" cy="946.3"/><text class="e" x="316.5" y="947.8">Ciudad del Cine</text></g>
<g id="n416"><circle class="d" cx="302.3" cy="928.3"/><text class="e" x="299" y="929.8">Retamares</text></g>
<g id="n417"><circle class="d" cx="280" cy="906"/><text x="283.3" y="907.5">Ventorro del Cano</text></g>
<g id="n418"><circle class="d" cx="253.3" cy="906"/><text class="m" x="256.7" y="901.8">Prado del Espino</text></g>
<g id="n419"><circle class="d" cx="226.7" cy="906"/><text class="m" x="230" y="913">Cantabria</text></g>
<g id="n420"><circle class="d" cx="200" cy="906"/><text class="m" x="203.3" y="901.8">Ferial de Boadilla</text></g>
<g id="n421"><circle class="d" cx="173.3" cy="906"/><text class="m" x="176.7" y="913">Boadilla Centro</text></g>
<g id="n422"><circle class="d" cx="146.7" cy="906"/><text class="m" x="150" y="901.8">Nuevo Mundo</text></g>
<g id="n423"><circle class="d" cx="120" cy="906"/><text class="m" x="123.3" y="913">Siglo XXI</text></g>
<g id="n424"><circle class="d" cx="92.7" cy="906"/><text class="e" x="89.5" y="907.5">Boadilla Oeste</text></g>
<g id="n425"><circle class="d" cx="426.7" cy="1035.3"/><text x="430" y="1036.8">Aluche Norte</text></g>
<g id="n426"><circle class="d" cx="426.7" cy="1013"/><text x="430" y="1014.5">Valmojado</text></g>
<g id="n427"><circle class="d" cx="426.7" cy="990.7"/><text x="430" y="992.2">Yébenes</text></g>
<g id="n428"><circle class="d" cx="426.7" cy="968.7"/><text x="430" y="970.2">Sepúlveda</text></g>
<g id="n429"><circle class="d" cx="426.7" cy="946.3"/><text x="430" y="947.8">Villagarcía</text></g>
<g id="n430"><circle class="d" cx="426.7" cy="924"/><text x="430" y="925.5">Lucero</text></g>
<g id="n431"><circle class="d" cx="426.7" cy="901.7"/><text x="430" y="903.2">Laguna</text></g>
<g id="n432"><circle class="d" cx="444.3" cy="884"/><text x="448" y="885.5">Ampelido</text></g>
<g id="n433"><circle class="d" cx="449" cy="861.7"/><text x="452.5" y="863.2">San Juan Bosco</text></g>
<g id="n434"><circle class="d" cx="457.7" cy="844"/><text class="m" x="461" y="840">Extremadura</text></g>
<g id="n435"><circle class="d" cx="471" cy="844"/><text x="473.3" y="846.7" transform="rotate(45 473.3 846.7)">Portugal</text></g>
<g id="n436"><circle class="d" cx="484.3" cy="844"/><text x="488" y="845.5">Virgen del Puerto</text></g>
<g id="n437"><circle class="d" cx="506.7" cy="822.3"/><text class="e" x="503" y="823.8">Campo del Moro</text></g>
<g id="n438"><circle class="d" cx="533.3" cy="822.3"/><text class="e" x="531.5" y="825" transform="rotate(-45 531.5 825)">Segovia</text></g>
<g id="n439"><circle class="d" cx="573.3" cy="822.3"/><text x="576" y="819.5" transform="rotate(-45 576 819.5)">Plaza de la Paja</text></g>
<g id="n440"><circle class="d" cx="591" cy="822.3"/><text class="m" x="594.5" y="829.2">Casa de la Villa</text></g>
<g id="n441"><circle class="d" cx="609" cy="822.3"/><text x="611.5" y="819.5" transform="rotate(-45 611.5 819.5)">IES San Isidro</text></g>
<g id="n442"><circle class="d" cx="640" cy="822.3"/><text class="m" x="643.3" y="818">Tirso de Molina</text></g>
<g id="n443"><circle class="d" cx="671" cy="822.3"/><text class="m" x="674.5" y="818">Cabeza</text></g>
<g id="n444"><circle class="r" cx="715.7" cy="826.7"/><circle class="d" cx="720" cy="826.7"/><text class="e" x="713" y="830" transform="rotate(-45 713 830)">Antón Martín</text></g>
<g id="n445"><circle class="d" cx="746.7" cy="831"/><text class="m" x="750" y="826.8">Santa Isabel</text></g>
<g id="n446"><circle class="d" cx="773.3" cy="831"/><text class="m" x="777" y="837.8">Reina Sofía</text></g>
<g id="n447"><circle class="d" cx="1013.3" cy="950.7"/><text x="1016.7" y="952.2">Adelfas</text></g>
<g id="n448"><circle class="d" cx="1031" cy="968.3"/><text x="1034.5" y="969.8">Martin Luther King</text></g>
<g id="n449"><circle class="d" cx="1049" cy="986.3"/><text x="1052.3" y="987.8">Puente de Vallecas</text></g>
<g id="n450"><circle class="d" cx="1066.7" cy="1004"/><text x="1070" y="1005.5">Albufera</text></g>
<g id="n451"><circle class="d" cx="1084.3" cy="1021.7"/><text x="1087.7" y="1023.2">San Virgilio</text></g>
<g id="n452"><circle class="d" cx="1102.3" cy="1039.3"/><text x="1105.7" y="1040.8">Brígida Alonso</text></g>
<g id="n453"><circle class="d" cx="1120" cy="1057.3"/><text x="1123.5" y="1058.8">Enrique Velasco</text></g>
<g id="n454"><circle class="d" cx="1137.7" cy="1075"/><text x="1141" y="1076.5">Valdemiñas Bajo</text></g>
<g id="n455"><circle class="d" cx="1155.7" cy="1092.7"/><text x="1159" y="1094.2">Rayo Vallecano</text></g>
<g id="n456"><circle class="d" cx="1173.3" cy="1110.7"/><text x="1176.7" y="1112.2">Buenos Aires</text></g>
<g id="n457"><circle class="d" cx="1191" cy="1128.3"/><text x="1194.5" y="1129.8">Adra</text></g>
<g id="n458"><circle class="d" cx="1209" cy="1146.3"/><text x="1212.3" y="1147.8">Santillana</text></g>
<g id="n459"><circle class="d" cx="1053.3" cy="1013"/><text class="e" x="1050" y="1014.5">Martínez de la Riva</text></g>
<g id="n460"><circle class="d" cx="1053.3" cy="1035.3"/><text class="e" x="1050" y="1036.8">Tomás Esteban</text></g>
<g id="n461"><circle class="d" cx="1053.3" cy="1057.3"/><text class="e" x="1050" y="1058.8">Amós Acero</text></g>
<g id="n462"><circle class="d" cx="1053.3" cy="1075"/><text class="e" x="1050" y="1076.5">Palomeras</text></g>
<g id="n463"><circle class="d" cx="1071" cy="1092.7"/><text class="e" x="1068" y="1094.2">Palomeras Bajas</text></g>
<g id="n464"><circle class="d" cx="1089" cy="1110.7"/><text class="e" x="1086" y="1112.2">Javier de Miguel</text></g>
<g id="n465"><circle class="d" cx="1111" cy="1133"/><text class="e" x="1108" y="1134.5">Palomeras Sur</text></g>
<g id="n466"><circle class="d" cx="1240" cy="1177.3"/><text class="e" x="1236.7" y="1178.8">Alberti</text></g>
<g id="n467"><circle class="d" cx="1240" cy="1195.3"/><text class="e" x="1236.7" y="1196.8">Miguel Hernández</text></g>
<g id="n468"><circle class="d" cx="1240" cy="1213"/><text class="e" x="1236.7" y="1214.5">Palomeras Exteriores</text></g>
<g id="n469"><circle class="d" cx="1240" cy="1231"/><text class="e" x="1236.7" y="1232.5">Democracia Sur</text></g>
<g id="n470"><circle class="d" cx="1240" cy="1248.7"/><text class="e" x="1236.7" y="1250.2">Vallecas Rente</text></g>
<g id="n471"><circle class="d" cx="1240" cy="1266.3"/><text class="e" x="1236.7" y="1267.8">Villa de Vallecas</text></g>
<g id="n472"><circle class="d" cx="1240" cy="1284"/><text class="e" x="1236.7" y="1285.5">Federico García Lorca</text></g>
<g id="n473"><circle class="d" cx="1240" cy="1302"/><text class="e" x="1236.7" y="1303.5">Congosto</text></g>
<g id="n474"><circle class="d" cx="1240" cy="1319.7"/><text class="e" x="1236.7" y="1321.2">Villa de Vallecas Sur</text></g>
<g id="n475"><circle class="d" cx="1240" cy="1337.3"/><text class="e" x="1236.7" y="1338.8">Ensanche de Vallecas</text></g>
<g id="n476"><circle class="d" cx="1240" cy="1355.3"/><text class="e" x="1236.7" y="1356.8">Las Suertes</text></g>
<g id="n477"><circle class="d" cx="1240" cy="1382"/><text class="e" x="1236.7" y="1383.5">La Gavia</text></g>
<g id="n478"><circle class="d" cx="1240" cy="1413"/><text class="e" x="1236.7" y="1414.5">Gadea</text></g>
<g id="n479"><circle class="r" cx="1240" cy="1440"/><text class="m" x="1246.5" y="1449.5">Valdecarros</text></g>
<g id="n480"><circle class="d" cx="421.7" cy="560"/><text class="e" x="418.5" y="561.5">Palacio de la Moncloa</text></g>
<g id="n481"><circle class="d" cx="457.7" cy="560"/><text class="m" x="461" y="566.5">María Zambrano</text></g>
<g id="n482"><circle class="d" cx="502.3" cy="560"/><circle class="r" cx="497.7" cy="564"/><text class="m" x="505.5" y="555.5">UCM-Filosofía/Derecho</text></g>
<g id="n483"><circle class="d" cx="524.3" cy="582"/><text x="528" y="583.5">UCM-Matemáticas</text></g>
<g id="n484"><circle class="d" cx="524.3" cy="608.7"/><text x="528" y="610.2">UCM-Comunicación</text></g>
<g id="n485"><circle class="d" cx="524.3" cy="635.3"/><text x="528" y="636.8">Universidad Complutense de Madrid</text></g>
<g id="n486"><circle class="d" cx="524.3" cy="653.3"/><circle class="d" cx="524.3" cy="657.3"/><text class="e" x="521" y="658.8">Casa de Brasil</text></g>
<g id="n487"><circle class="d" cx="546.7" cy="560"/><text class="m" x="550" y="555.5">Botánico</text></g>
<g id="n488"><circle class="d" cx="564.3" cy="560"/><text class="m" x="568" y="566.5">Universidad Politécnica de Madrid</text></g>
<g id="n489"><circle class="d" cx="582.3" cy="560"/><text class="m" x="585.7" y="555.5">UCM-Educación</text></g>
<g id="n490"><circle class="d" cx="609" cy="560"/><text x="612" y="557" transform="rotate(-45 612 557)">Juan XXIII</text></g>
<g id="n491"><circle class="d" cx="644" cy="533.3"/><text class="e" x="640.7" y="534.8">Pablo Iglesias</text></g>
<g id="n492"><circle class="d" cx="661.7" cy="515.3"/><text class="e" x="658.5" y="516.8">Olite</text></g>
<g id="n493"><circle class="d" cx="680" cy="497.7"/><text class="e" x="676.5" y="499.2">Teruel</text></g>
<g id="n494"><circle class="d" cx="697.7" cy="480"/><text class="e" x="694.5" y="481.5">General Perón</text></g>
<g id="n495"><circle class="d" cx="764.3" cy="470.7"/><text class="m" x="767.7" y="477.5">Azca Norte</text></g>
<g id="n496"><circle class="d" cx="821.7" cy="470.7"/><text class="m" x="825" y="477.5">La Habana</text></g>
<g id="n497"><circle class="r" cx="840" cy="462"/><text x="844" y="457.5" transform="rotate(-45 844 457.5)">San Rafael</text></g>
<g id="n498"><circle class="d" cx="840" cy="440"/><text x="843.5" y="441.5">Potosí</text></g>
<g id="n499"><circle class="d" cx="840" cy="484.3"/><text x="843.5" y="485.8">Segre</text></g>
<g id="n500"><circle class="d" cx="840" cy="506.7"/><text x="843.5" y="508.2">Lonz</text></g>
<g id="n501"><circle class="d" cx="840" cy="528.7"/><text x="843.5" y="530.2">Nervión</text></g>
<g id="n502"><circle class="d" cx="840" cy="551"/><text x="843.5" y="552.5">República Argentina</text></g>
<g id="n503"><circle class="d" cx="866.7" cy="577.7"/><text class="e" x="863.5" y="579.2">Joaquín Costa</text></g>
<g id="n504"><circle class="d" cx="884.3" cy="577.7"/><text x="888" y="579.2">Recaredo</text></g>
<g id="n505"><circle class="d" cx="902.3" cy="608.3"/><text class="e" x="899" y="609.8">Castelló</text></g>
<g id="n506"><circle class="d" cx="902.3" cy="621.7"/><text class="e" x="899" y="623.2">General Oráa</text></g>
<g id="n507"><circle class="d" cx="902.3" cy="639.7"/><text class="e" x="899" y="641.2">Núñez de Balboa</text></g>
<g id="n508"><circle class="d" cx="902.3" cy="657.3"/><text class="e" x="899" y="658.8">Ortega y Gasset</text></g>
<g id="n509"><circle class="d" cx="902.3" cy="679.7"/><text class="e" x="899" y="681.2">Don Ramón de la Cruz</text></g>
<g id="n510"><circle class="d" cx="902.3" cy="702"/><text class="e" x="899" y="703.5">Hermosilla</text></g>
<g id="n511"><circle class="d" cx="902.3" cy="724"/><text class="e" x="899" y="725.5">Espartinas</text></g>
</g>
</svg>
